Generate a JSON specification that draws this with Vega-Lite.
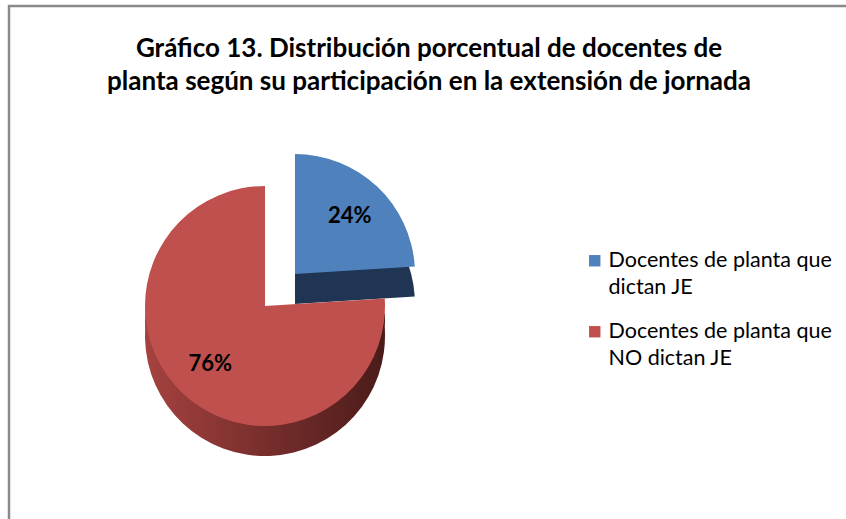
{
  "$schema": "https://vega.github.io/schema/vega-lite/v6.json",
  "width": 840,
  "height": 600,
  "autosize": {"type": "none"},
  "padding": {"left": 9, "top": 6, "right": 0, "bottom": 0},
  "background": "white",
  "config": {
    "view": {"stroke": null},
    "font": "Lato",
    "style": {"guide-label": {"lineHeight": 27}}
  },
  "title": {
    "text": ["Gráfico 13. Distribución porcentual de docentes de", "planta según su participación en la extensión de jornada"],
    "anchor": "middle",
    "offset": -90,
    "font": "Lato",
    "fontSize": 26,
    "fontWeight": "bold",
    "color": "#000000",
    "lineHeight": 33
  },
  "data": {
    "values": [
      {"categoria": "Docentes de planta que dictan JE", "valor": 24, "orden": 1},
      {"categoria": "Docentes de planta que NO dictan JE", "valor": 76, "orden": 2}
    ]
  },
  "transform": [
    {"stack": "valor", "groupby": [], "sort": [{"field": "orden"}], "as": ["t0", "t1"]},
    {"calculate": "(datum.t0 + datum.t1) / 2", "as": "tmid"},
    {"calculate": "format(datum.valor, 'd') + '%'", "as": "etiqueta"}
  ],
  "layer": [
    {
      "transform": [{"filter": "datum.orden == 1"}],
      "mark": {"type": "rect", "fill": null, "stroke": "#8a8a8a", "strokeWidth": 2.5},
      "encoding": {}
    },
    {
      "transform": [{"filter": "datum.orden == 1"}],
      "mark": {"type": "arc", "outerRadius": 120, "xOffset": -134, "yOffset": -2, "fill": "#1F3553"},
      "encoding": {
        "theta": {"field": "t0", "type": "quantitative", "scale": {"domain": [0, 100]}},
        "theta2": {"field": "t1"}
      }
    },
    {
      "transform": [{"filter": "datum.orden == 1"}],
      "mark": {"type": "arc", "outerRadius": 120, "xOffset": -134, "yOffset": -32},
      "encoding": {
        "theta": {"field": "t0", "type": "quantitative", "scale": {"domain": [0, 100]}},
        "theta2": {"field": "t1"},
        "color": {
          "field": "categoria",
          "type": "nominal",
          "scale": {"domain": ["Docentes de planta que dictan JE", "Docentes de planta que NO dictan JE"], "range": ["#4F81BD", "#C0504D"]},
          "legend": {
            "orient": "none",
            "legendX": 575,
            "legendY": 244,
            "title": null,
            "symbolType": "square",
            "symbolSize": 130,
            "symbolStrokeWidth": 0,
            "labelFont": "Lato",
            "labelFontSize": 21.5,
            "labelColor": "#000000",
            "labelLimit": 400,
            "labelOffset": 3,
            "labelExpr": "[slice(datum.label, 0, 22), slice(datum.label, 23)]",
            "rowPadding": 21
          }
        }
      }
    },
    {
      "transform": [{"filter": "datum.orden == 2"}],
      "mark": {
        "type": "arc",
        "outerRadius": 120,
        "xOffset": -164,
        "yOffset": 30,
        "fill": {"gradient": "linear", "x1": 0, "x2": 1, "y1": 0, "y2": 0, "stops": [{"offset": 0, "color": "#A5423F"}, {"offset": 1, "color": "#4A1B1A"}]}
      },
      "encoding": {
        "theta": {"field": "t0", "type": "quantitative", "scale": {"domain": [0, 100]}},
        "theta2": {"field": "t1"}
      }
    },
    {
      "transform": [{"filter": "datum.orden == 2"}],
      "mark": {
        "type": "arc",
        "outerRadius": 120,
        "xOffset": -164,
        "yOffset": 15,
        "fill": {"gradient": "linear", "x1": 0, "x2": 1, "y1": 0, "y2": 0, "stops": [{"offset": 0, "color": "#A5423F"}, {"offset": 1, "color": "#4A1B1A"}]}
      },
      "encoding": {
        "theta": {"field": "t0", "type": "quantitative", "scale": {"domain": [0, 100]}},
        "theta2": {"field": "t1"}
      }
    },
    {
      "transform": [{"filter": "datum.orden == 2"}],
      "mark": {"type": "arc", "outerRadius": 120, "xOffset": -164, "yOffset": 0},
      "encoding": {
        "theta": {"field": "t0", "type": "quantitative", "scale": {"domain": [0, 100]}},
        "theta2": {"field": "t1"},
        "color": {"field": "categoria", "type": "nominal"}
      }
    },
    {
      "transform": [{"filter": "datum.orden == 1"}],
      "mark": {"type": "text", "radius": 80, "xOffset": -134, "yOffset": -32, "font": "Lato", "fontSize": 22, "fontWeight": "bold", "color": "#000000"},
      "encoding": {
        "theta": {"field": "tmid", "type": "quantitative", "scale": {"domain": [0, 100]}},
        "text": {"field": "etiqueta"}
      }
    },
    {
      "transform": [{"filter": "datum.orden == 2"}],
      "mark": {"type": "text", "radius": 80, "xOffset": -164, "yOffset": 0, "font": "Lato", "fontSize": 22, "fontWeight": "bold", "color": "#000000"},
      "encoding": {
        "theta": {"field": "tmid", "type": "quantitative", "scale": {"domain": [0, 100]}},
        "text": {"field": "etiqueta"}
      }
    }
  ],
  "resolve": {"scale": {"theta": "shared"}}
}
